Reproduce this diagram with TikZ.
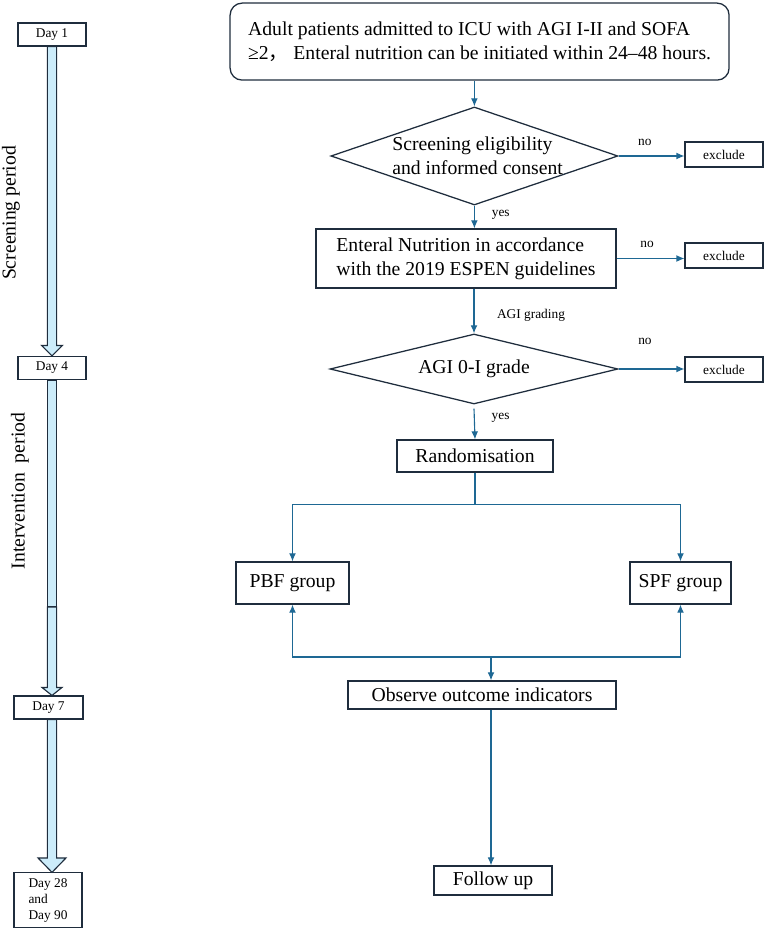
\documentclass[tikz,border=0pt]{standalone}
\usepackage{fontspec}
\setmainfont{Liberation Serif}
\newfontfamily\cjk{Noto Sans CJK SC}
\usepackage{tikz}
\usetikzlibrary{positioning,arrows.meta,calc,shapes.geometric}
\definecolor{boxdraw}{RGB}{31,45,61}
\definecolor{linkblue}{RGB}{30,104,148}
\definecolor{shaftfill}{RGB}{204,236,250}

\begin{document}
\begin{tikzpicture}[
  pbox/.style={draw=boxdraw, line width=0.9pt, fill=white, font=\fontsize{14}{17}\selectfont, align=left, inner sep=2pt},
  dbox/.style={draw=boxdraw, line width=0.8pt, fill=white, font=\fontsize{9.5}{11.5}\selectfont, minimum width=1.7cm, minimum height=0.575cm, inner sep=1pt},
  xbox/.style={draw=boxdraw, line width=0.8pt, fill=white, font=\fontsize{9.5}{11.5}\selectfont, minimum width=1.95cm, minimum height=0.625cm, inner sep=1pt},
  dec/.style={diamond, aspect=4, draw=boxdraw, line width=0.9pt, fill=white, inner sep=0pt, font=\fontsize{14}{17}\selectfont},
  arr/.style={-{Latex[length=2mm,width=1.7mm]}, line width=0.8pt, linkblue},
  shaft/.style={draw=boxdraw, fill=shaftfill, line width=0.8pt, line join=miter},
  elbl/.style={font=\fontsize{9.5}{11}\selectfont, text=black, inner sep=0pt},
  period/.style={font=\fontsize{14}{17}\selectfont, rotate=90},
]
\useasboundingbox (0,0) rectangle (19.175,-23.275);

% ============ time line ============
\node[dbox] (day1) at (1.30,-0.8625) {Day 1};
\node[dbox] (day4) at (1.30,-9.20) {Day 4};
\node[dbox, minimum width=1.725cm] (day7) at (1.2125,-17.6875) {Day 7};
\node[dbox, minimum height=1.375cm, align=left] (day28) at (1.20,-22.51) {Day 28\\and\\Day 90};

\node[period] (scr) at (0.275,-5.325) {Screening period};
\node[period] (intv) at (0.50,-12.275) {Intervention\ \ period};

\coordinate (sx) at (1.30,0);
\coordinate (brk) at (1.30,-15.175);

\draw[shaft] ($(sx |- day1.south)+(-0.115,0)$) -- ($(sx |- day4.north)+(-0.115,0.26)$) -- ++(-0.145,0) -- (sx |- day4.north)
  -- ($(sx |- day4.north)+(0.26,0.26)$) -- ++(-0.145,0) -- ($(sx |- day1.south)+(0.115,0)$) -- cycle;
\draw[shaft] ($(sx |- day4.south)+(-0.115,0)$) rectangle ($(brk)+(0.115,0)$);
\draw[shaft] ($(brk)+(-0.115,0)$) -- ($(sx |- day7.north)+(-0.115,0.2)$) -- ++(-0.135,0) -- (sx |- day7.north)
  -- ($(sx |- day7.north)+(0.25,0.2)$) -- ++(-0.135,0) -- ($(brk)+(0.115,0)$) -- cycle;
\draw[shaft] ($(sx |- day7.south)+(-0.115,0)$) -- ($(sx |- day28.north)+(-0.115,0.36)$) -- ++(-0.235,0) -- (sx |- day28.north)
  -- ($(sx |- day28.north)+(0.35,0.36)$) -- ++(-0.235,0) -- ($(sx |- day7.south)+(0.115,0)$) -- cycle;

% ============ screening ============
\node[pbox, rounded corners=0.3cm, minimum width=12.475cm, minimum height=1.925cm, inner xsep=0.25cm] (adm) at (11.99,-1.04)
  {Adult patients admitted to ICU with AGI I-II and SOFA\\≥2{\cjk ，} Enteral nutrition can be initiated within 24–48 hours.};

\node[dec, minimum width=7.175cm, minimum height=2.45cm] (elig) at (11.86,-3.90) {};
\node[align=left, font=\fontsize{14}{17.5}\selectfont, inner sep=0pt] (eligt) at (11.94,-3.89)
  {Screening eligibility\\and informed consent};
\node[xbox] (excl1) at (18.10,-3.8625) {exclude};

\node[pbox, minimum width=7.5cm, minimum height=1.475cm] (en) at (11.65,-6.4625)
  {Enteral Nutrition in accordance\\with the 2019 ESPEN guidelines};
\node[xbox] (excl2) at (18.10,-6.3875) {exclude};

\node[dec, minimum width=7.2cm, minimum height=1.75cm] (agi) at (11.85,-9.225) {AGI 0-I grade};
\node[xbox] (excl3) at (18.10,-9.2375) {exclude};

\draw[arr] (adm.south -| elig.north) -- (elig.north);
\draw[arr] (elig.east) -- node[elbl, above=7pt, pos=0.4]{no} (elig.east -| excl1.west);
\draw[arr] (elig.south) -- node[elbl, right=12pt, pos=0.4]{yes} (elig.south |- en.north);
\draw[arr] (en.east) -- node[elbl, above=7pt, pos=0.45]{no} (en.east -| excl2.west);
\draw[arr] (en.south -| agi.north) -- node[elbl, right=16pt, pos=0.6]{AGI grading} (agi.north);
\draw[arr] (agi.east) -- node[elbl, above=17pt, pos=0.4]{no} (agi.east -| excl3.west);

% ============ intervention ============
\node[pbox, align=center, minimum width=3.9cm, minimum height=0.8cm] (rand) at (11.875,-11.40) {Randomisation};
\node[pbox, align=center, minimum width=2.825cm, minimum height=1.05cm] (pbf) at (7.3125,-14.575) {PBF group};
\node[pbox, align=center, minimum width=2.525cm, minimum height=1.05cm] (spf) at (17.0125,-14.575) {SPF group};
\node[pbox, align=center, minimum width=6.7cm, minimum height=0.7cm] (obs) at (12.05,-17.375) {Observe outcome indicators};
\node[pbox, align=center, minimum width=2.95cm, minimum height=0.725cm] (fol) at (12.325,-22.0125) {Follow up};

\draw[arr] ($(agi.south)+(0,-0.1)$) -- node[elbl, right=12pt, pos=0.3]{yes} (rand.north);
\draw[arr] (rand.south) -- ++(0,-0.8) -| (pbf.north);
\draw[arr] (rand.south) -- ++(0,-0.8) -| (spf.north);

\coordinate (jn) at (12.275,-16.425);
\draw[arr] (jn) -| (pbf.south);
\draw[arr] (jn) -| (spf.south);
\draw[arr] (jn) -- (jn |- obs.north);
\draw[arr] (obs.south -| jn) -- (jn |- fol.north);
\end{tikzpicture}
\end{document}
